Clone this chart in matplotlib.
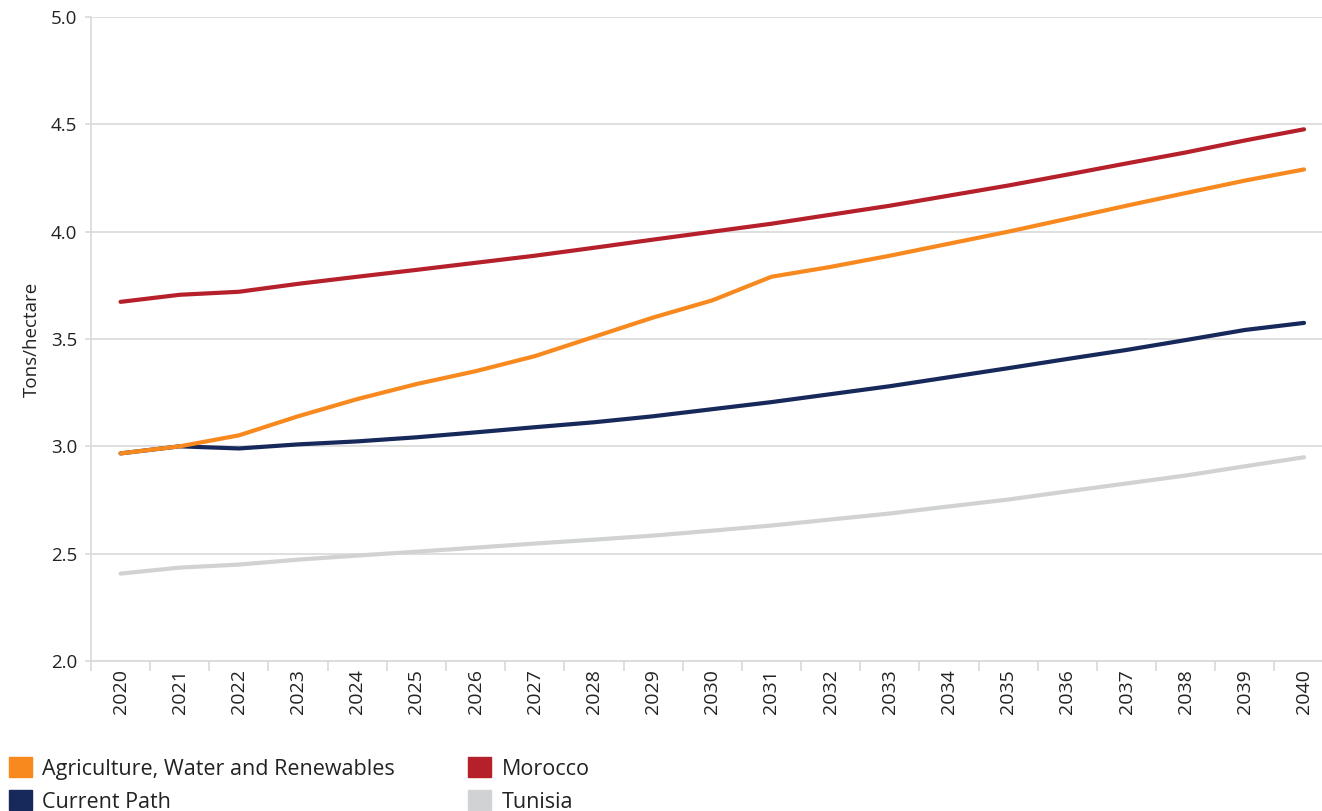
import numpy as np
import matplotlib.pyplot as plt
from matplotlib.patches import Patch
from matplotlib.ticker import FixedLocator

plt.rcParams['font.family'] = ['Open Sans', 'DejaVu Sans']

years = list(range(2020, 2041))
agri = [2.967, 3.0, 3.051, 3.14, 3.22, 3.29, 3.35, 3.42, 3.51, 3.60, 3.68,
        3.79, 3.836, 3.888, 3.944, 4.0, 4.06, 4.121, 4.18, 4.238, 4.29]
current = [2.967, 3.0, 2.99, 3.009, 3.023, 3.042, 3.065, 3.089, 3.112, 3.14, 3.173,
           3.206, 3.243, 3.28, 3.322, 3.364, 3.407, 3.449, 3.495, 3.542, 3.575]
morocco = [3.673, 3.706, 3.72, 3.757, 3.79, 3.822, 3.855, 3.888, 3.925, 3.963, 4.0,
           4.037, 4.079, 4.121, 4.168, 4.215, 4.266, 4.318, 4.369, 4.425, 4.477]
tunisia = [2.407, 2.435, 2.449, 2.472, 2.491, 2.509, 2.528, 2.547, 2.565, 2.584, 2.607,
           2.631, 2.659, 2.687, 2.72, 2.752, 2.79, 2.827, 2.864, 2.907, 2.949]

series = [
    ('Agriculture, Water and Renewables', agri, '#F7891F'),
    ('Current Path', current, '#17285A'),
    ('Morocco', morocco, '#B5202A'),
    ('Tunisia', tunisia, '#D1D2D4'),
]

fig = plt.figure(figsize=(13.22, 8.11), dpi=100)
ax = fig.add_axes([0.0688, 0.185, 0.940, 0.794])

x = np.arange(len(years))
# draw grey first so it sits underneath
for name, vals, col in [series[3], series[2], series[1], series[0]]:
    ax.plot(x, vals, color=col, lw=3, solid_capstyle='round', zorder=3)

ax.set_xlim(-0.5, len(years) - 0.5)
ax.set_ylim(2.0, 5.0)
ax.set_yticks(np.arange(2.0, 5.01, 0.5))
ax.set_yticklabels([f'{v:.1f}' for v in np.arange(2.0, 5.01, 0.5)])
ax.set_xticks(x)
ax.set_xticklabels([str(y) for y in years], rotation=90)
ax.xaxis.set_minor_locator(FixedLocator(np.arange(-0.5, len(years), 1.0)))

ax.grid(axis='y', color='#d9d9d9', lw=1.2, zorder=0)
for s in ['top', 'right']:
    ax.spines[s].set_visible(False)
for s in ['left', 'bottom']:
    ax.spines[s].set_color('#d9d9d9')
    ax.spines[s].set_linewidth(1.2)

ax.tick_params(axis='x', which='major', length=0, pad=6, labelsize=14, labelcolor='#222222')
ax.tick_params(axis='x', which='minor', length=7, color='#d9d9d9', width=1.2)
ax.tick_params(axis='y', length=4, color='#d9d9d9', width=1.2, pad=6,
               labelsize=13.5, labelcolor='#222222')

ax.set_ylabel('Tons/hectare', fontsize=13.5, color='#222222', labelpad=7)

handles = [Patch(facecolor=c, edgecolor=c, label=n) for n, _, c in series]
fig.legend(handles=handles, loc='upper left', bbox_to_anchor=(0.007, 0.066),
           ncol=2, frameon=False, fontsize=15.5, handlelength=1.07, handleheight=1.02,
           handletextpad=0.47, labelspacing=0.5, columnspacing=3.4,
           borderaxespad=0, borderpad=0, labelcolor='#222222')

fig.savefig('out.png', dpi=100)
